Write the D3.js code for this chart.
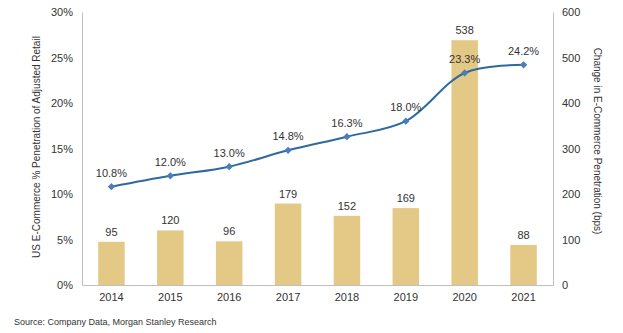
<!DOCTYPE html>
<html>
<head>
<meta charset="utf-8">
<script src="https://cdn.jsdelivr.net/npm/d3@7"></script>
<style>
  body { margin: 0; background: #fff; }
  svg text { font-family: "Liberation Sans", Arial, sans-serif; fill: #333; }
</style>
</head>
<body>
<div id="chart"></div>
<script>
const years = ["2014", "2015", "2016", "2017", "2018", "2019", "2020", "2021"];
const bpsChange = [95, 120, 96, 179, 152, 169, 538, 88];
const penetration = [10.8, 12.0, 13.0, 14.8, 16.3, 18.0, 23.3, 24.2];
const leftTicks = [0, 5, 10, 15, 20, 25, 30];
const rightTicks = [0, 100, 200, 300, 400, 500, 600];

const width = 623, height = 333;
const margin = {top: 12, right: 70, bottom: 48, left: 82};

const svg = d3.select("#chart").append("svg")
    .attr("width", width)
    .attr("height", height);

const x = d3.scaleBand()
    .domain(years)
    .range([margin.left, width - margin.right])
    .paddingInner(0.55)
    .paddingOuter(0.275);

const yLeft = d3.scaleLinear()
    .domain([0, 30])
    .range([height - margin.bottom, margin.top]);

const yRight = d3.scaleLinear()
    .domain([0, 600])
    .range([height - margin.bottom, margin.top]);

// bars
svg.append("g").selectAll("rect")
    .data(bpsChange)
    .join("rect")
    .attr("x", (d, i) => x(years[i]))
    .attr("y", d => yRight(d))
    .attr("width", x.bandwidth())
    .attr("height", d => yRight(0) - yRight(d))
    .attr("fill", "#E3C985");

svg.append("g").selectAll("text")
    .data(bpsChange)
    .join("text")
    .attr("x", (d, i) => x(years[i]) + x.bandwidth() / 2)
    .attr("y", d => yRight(d) - 6)
    .attr("text-anchor", "middle")
    .style("font-size", "11px")
    .text(d => d);

// axes
const axisColor = "#BFBFBF";
const leftAxis = svg.append("g")
    .attr("transform", `translate(${margin.left},0)`)
    .call(d3.axisLeft(yLeft).tickValues(leftTicks).tickSize(0).tickPadding(9).tickFormat(d => d + "%"));
const rightAxis = svg.append("g")
    .attr("transform", `translate(${width - margin.right},0)`)
    .call(d3.axisRight(yRight).tickValues(rightTicks).tickSize(0).tickPadding(9));
const bottomAxis = svg.append("g")
    .attr("transform", `translate(0,${height - margin.bottom})`)
    .call(d3.axisBottom(x).tickSize(0).tickPadding(8));

[leftAxis, rightAxis, bottomAxis].forEach(g => {
    g.select(".domain").attr("stroke", axisColor);
    g.selectAll("text").style("font-size", "11px").attr("fill", "#333");
});

// line
const line = d3.line()
    .x((d, i) => x(years[i]) + x.bandwidth() / 2)
    .y(d => yLeft(d))
    .curve(d3.curveCatmullRom.alpha(0.5));

svg.append("path")
    .datum(penetration)
    .attr("fill", "none")
    .attr("stroke", "#2F6A9F")
    .attr("stroke-width", 2)
    .attr("d", line);

svg.append("g").selectAll("path")
    .data(penetration)
    .join("path")
    .attr("d", d3.symbol(d3.symbolDiamond2, 34))
    .attr("transform", (d, i) => `translate(${x(years[i]) + x.bandwidth() / 2},${yLeft(d)})`)
    .attr("fill", "#4A7EBB");

svg.append("g").selectAll("text")
    .data(penetration)
    .join("text")
    .attr("x", (d, i) => x(years[i]) + x.bandwidth() / 2)
    .attr("y", d => yLeft(d) - 10)
    .attr("text-anchor", "middle")
    .style("font-size", "11px")
    .text(d => d.toFixed(1) + "%");

// axis titles
svg.append("text")
    .attr("transform", "translate(40,147) rotate(-90)")
    .attr("text-anchor", "middle")
    .style("font-size", "10px")
    .text("US E-Commerce % Penetration of Adjusted Retail");

svg.append("text")
    .attr("transform", "translate(594,141) rotate(90)")
    .attr("text-anchor", "middle")
    .style("font-size", "10px")
    .text("Change in E-Commerce Penetration (bps)");

svg.append("text")
    .attr("x", 14)
    .attr("y", 325)
    .style("font-size", "9px")
    .text("Source: Company Data, Morgan Stanley Research");
</script>
</body>
</html>
